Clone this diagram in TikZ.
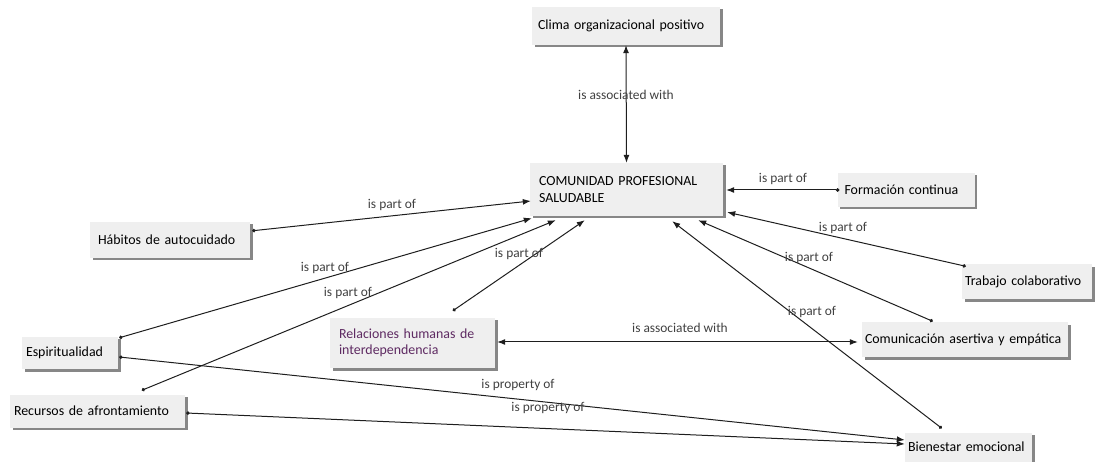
\documentclass[tikz,border=0pt]{standalone}
\usepackage{fontspec}
\setmainfont{Carlito}
\usetikzlibrary{arrows.meta,shadows,calc}
\definecolor{boxfill}{HTML}{EFEFEF}
\definecolor{shadowc}{HTML}{7A7A7A}
\definecolor{linec}{HTML}{1E1E1E}
\definecolor{relc}{HTML}{5E2A62}
\begin{document}
\begin{tikzpicture}[x=1pt,y=-1pt,
  cbox/.style={fill=boxfill, inner sep=0pt, font=\fontsize{13.9}{16.5}\selectfont, text=black, align=left,
    drop shadow={shadow xshift=2.5pt, shadow yshift=-2.5pt, fill=shadowc, opacity=0.9}},
  conn/.style={draw=linec, line width=1pt, {Circle[length=3.4pt]}-{Latex[length=8pt,width=6pt]}},
  bconn/.style={draw=linec, line width=1pt, {Latex[length=8pt,width=6pt]}-{Latex[length=8pt,width=6pt]}},
  lbl/.style={font=\fontsize{13.4}{15}\selectfont, text=black!75}
]
\useasboundingbox (0,0) rectangle (1098,462);
% boxes
\node[cbox, minimum width=188pt, minimum height=38pt, text width=176pt] (clima) at (626,26) {\mbox{Clima organizacional positivo}};
\node[cbox, minimum width=193pt, minimum height=53pt, text width=175pt] (com) at (626.5,189.5) {COMUNIDAD PROFESIONAL\\SALUDABLE};
\node[cbox, minimum width=160pt, minimum height=36pt, text width=144pt] (hab) at (170,240) {\mbox{Hábitos de autocuidado}};
\node[cbox, minimum width=137pt, minimum height=34pt, text width=123pt] (form) at (906,190) {\mbox{Formación continua}};
\node[cbox, minimum width=130pt, minimum height=35pt, text width=124pt] (trab) at (1027,282) {\mbox{Trabajo colaborativo}};
\node[cbox, minimum width=96pt, minimum height=32pt, text width=88pt] (esp) at (70,353) {\mbox{Espiritualidad}};
\node[cbox, minimum width=165pt, minimum height=50pt, text width=147pt, text=relc] (rel) at (412.5,343) {Relaciones humanas de\\interdependencia};
\node[cbox, minimum width=206pt, minimum height=35pt, text width=200pt] (comm) at (965,340) {\mbox{Comunicación asertiva y empática}};
\node[cbox, minimum width=175pt, minimum height=33pt, text width=167pt] (rec) at (97.5,411) {\mbox{Recursos de afrontamiento}};
\node[cbox, minimum width=127pt, minimum height=29pt, text width=121pt] (bien) at (968.5,447) {\mbox{Bienestar emocional}};
% connectors
\draw[bconn] (clima.south) -- (com.north);
\node[lbl] (l1) at (626,95) {is associated with};
\draw[conn] ($(form.west)+(2,0)$) -- ($(com.east)+(3,0.5)$);
\node[lbl] (l2) at (783,179) {is part of};
\draw[conn] ($(hab.north east)+(2,9)$) -- ($(com.west)+(1,11.5)$);
\node[lbl] (l3) at (392,205) {is part of};
\draw[conn] ($(trab.north west)+(4,2)$) -- ($(com.south east)+(4,-4)$);
\node[lbl] (l4) at (843,228) {is part of};
\draw[conn] ($(comm.north west)+(71,-1)$) -- ($(com.south east)+(-25,4)$);
\node[lbl] (l5) at (809,258) {is part of};
\draw[conn] ($(bien.north west)+(37,-4)$) -- ($(com.south east)+(-51,5)$);
\node[lbl] (l6) at (812,312) {is part of};
\draw[conn] ($(rel.north west)+(123,-7)$) -- ($(com.south west)+(55,4)$);
\node[lbl] (l7) at (519,254) {is part of};
\draw[conn] ($(esp.north east)+(1,1)$) -- ($(com.south west)+(2,2)$);
\node[lbl] (l8) at (325,268) {is part of};
\draw[conn] ($(rec.north west)+(132,-4)$) -- ($(com.south west)+(26,4)$);
\node[lbl] (l9) at (348,293) {is part of};
\draw[bconn] ($(rel.east)+(2,-1)$) -- ($(comm.west)+(-4,2)$);
\node[lbl] (l10) at (680,328) {is associated with};
\draw[conn] ($(esp.east)+(1,4)$) -- ($(bien.west)+(0,-7)$);
\node[lbl] (l11) at (518,385) {is property of};
\draw[conn] ($(rec.east)+(1,2)$) -- ($(bien.west)+(0,-3)$);
\node[lbl] (l12) at (548,408) {is property of};
\end{tikzpicture}
\end{document}
